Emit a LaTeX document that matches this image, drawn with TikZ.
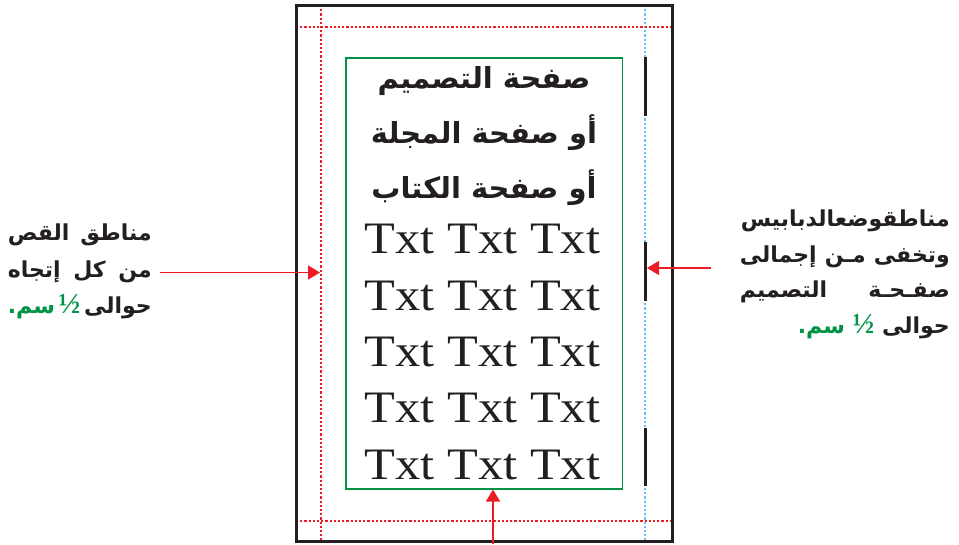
\documentclass[tikz,border=0pt]{standalone}
\usepackage{fontspec}
\TeXXeTstate=1
\setmainfont{Liberation Serif}
\newfontfamily\ar[Script=Arabic]{DejaVu Sans}
\newfontfamily\txtf[FakeStretch=1.12]{Liberation Serif}
\newfontfamily\numf{Liberation Serif}
\usetikzlibrary{arrows.meta}
\definecolor{redd}{RGB}{237,28,36}
\definecolor{bluedot}{RGB}{100,195,240}
\definecolor{grn}{RGB}{0,146,69}
\definecolor{ink}{RGB}{35,31,32}
\tikzset{
  reddot/.style={redd, line width=2.4pt, dash pattern=on 2.2pt off 2pt},
  bluedotted/.style={bluedot, line width=2.4pt, dash pattern=on 2.2pt off 2pt},
  pinbar/.style={ink, line width=3pt},
  framebox/.style={ink, line width=3pt},
  greenbox/.style={grn, line width=1.5pt},
  arr/.style={redd, line width=1.3pt, -{Triangle[length=12pt,width=14pt]}},
  txtline/.style={anchor=base, font=\txtf\fontsize{45}{45}\selectfont, text=ink, inner sep=0pt},
  arline/.style={anchor=base, font=\ar\bfseries\fontsize{29}{29}\selectfont, text=ink, inner sep=0pt},
  side/.style={anchor=base east, font=\ar\bfseries\fontsize{22}{22}\selectfont, text=ink, inner sep=0pt},
}
\newcommand{\half}{{\color{grn}\numf\fontsize{29}{29}\selectfont ½}}
\newcommand{\sam}{{\color{grn}\beginR سم.\endR}}
\begin{document}
\begin{tikzpicture}[x=1pt,y=-1pt]
\useasboundingbox (0,0) rectangle (959,544);
% guide lines
\draw[bluedotted] (645,5) -- (645,541);
\draw[reddot] (321,5) -- (321,541);
\draw[reddot] (296,27) -- (673,27);
\draw[reddot] (296,521) -- (673,521);
% pin bars
\draw[pinbar] (645,57) -- (645,116);
\draw[pinbar] (645,242) -- (645,301);
\draw[pinbar] (645,428) -- (645,486);
% frame and design area
\draw[framebox] (296,5) rectangle (672,541);
\draw[greenbox] (346,58) rectangle (622.5,489);
% inner text
\node[arline] (a1) at (484,88) {\beginR صفحة التصميم\endR};
\node[arline] (a2) at (484,143) {\beginR أو صفحة المجلة\endR};
\node[arline] (a3) at (484,198) {\beginR أو صفحة الكتاب\endR};
\node[txtline] (t1) at (482.5,253) {Txt Txt Txt};
\node[txtline] (t2) at (482.5,310) {Txt Txt Txt};
\node[txtline] (t3) at (482.5,366) {Txt Txt Txt};
\node[txtline] (t4) at (482.5,422) {Txt Txt Txt};
\node[txtline] (t5) at (482.5,479) {Txt Txt Txt};
% left label
\node[side] (l1) at (152,240) {\hbox to 144pt{\beginR مناطق\hfill القص\endR}};
\node[side] (l2) at (152,277) {\hbox to 144pt{\beginR من كل إتجاه\endR}};
\node[side] (l3) at (152,313) {\hbox to 144pt{\sam\hfill\half\hfill\beginR حوالى\endR}};
% right label
\node[side] (r1) at (950,226) {\beginR مناطقوضعالدبابيس\endR};
\node[side] (r2) at (950,262) {\hbox to 210pt{\beginR وتخفى\hfill مـن\hfill إجمالى\endR}};
\node[side] (r3) at (950,297) {\hbox to 210pt{\beginR صفـحـة\hfill التصميم\endR}};
\node[side] (r4) at (950,333) {\sam\ \half\ \beginR حوالى\endR};
% arrows
\coordinate (lstart) at (160,272.5);
\coordinate (ltip) at (320,272.5);
\coordinate (rstart) at (711,268);
\coordinate (rtip) at (647,268);
\coordinate (bstart) at (493,544);
\coordinate (btip) at (493,489.5);
\draw[arr] (lstart) -- (ltip);
\draw[arr] (rstart) -- (rtip);
\draw[arr] (bstart) -- (btip);
\end{tikzpicture}
\end{document}
